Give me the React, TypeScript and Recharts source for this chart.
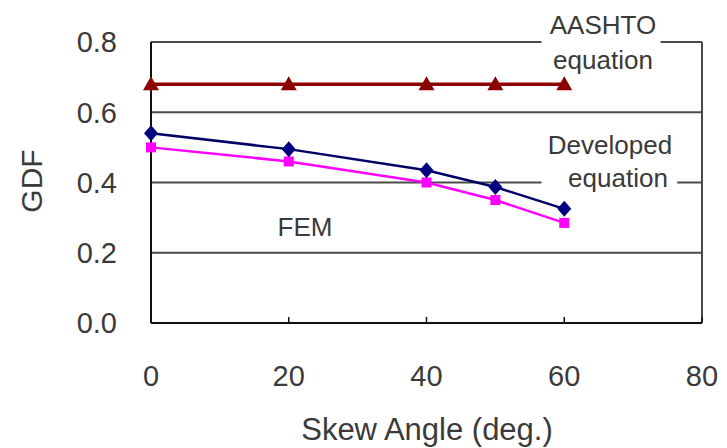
import { LineChart, Line, XAxis, YAxis, ReferenceLine } from "recharts";

// skew angle (deg.) and GDF values
const angles = [0, 20, 40, 50, 60];
const aashto = [0.68, 0.68, 0.68, 0.68, 0.68];
const developed = [0.54, 0.495, 0.435, 0.387, 0.325];
const fem = [0.5, 0.46, 0.4, 0.35, 0.285];

const xTicks = [0, 20, 40, 60, 80];
const yTicks = [0, 0.2, 0.4, 0.6, 0.8];

const data = angles.map((a, i) => ({
  angle: a,
  aashto: aashto[i],
  developed: developed[i],
  fem: fem[i],
}));

const FONT = "'Liberation Sans', Arial, sans-serif";
const TEXT = "#3a3a3a";
const GRID = "#4a4a4a";

const triangulo = (p: any) => (
  <path
    key={`t-${p.index}`}
    d={`M${p.cx},${p.cy - 8}L${p.cx + 8},${p.cy + 6}L${p.cx - 8},${p.cy + 6}Z`}
    fill="#8b0000"
  />
);

const losango = (p: any) => (
  <path
    key={`d-${p.index}`}
    d={`M${p.cx},${p.cy - 8}L${p.cx + 7},${p.cy}L${p.cx},${p.cy + 8}L${p.cx - 7},${p.cy}Z`}
    fill="#000080"
  />
);

const quadrado = (p: any) => (
  <rect key={`s-${p.index}`} x={p.cx - 5} y={p.cy - 5} width={10} height={10} fill="#ff00ff" />
);

const rotulo = (top: number, left: number, width: number, txt: string, size = 26) => (
  <div
    style={{
      position: "absolute",
      top,
      left,
      width,
      textAlign: "center",
      fontFamily: FONT,
      fontSize: size,
      color: TEXT,
      lineHeight: "32px",
      whiteSpace: "pre",
    }}
  >
    {txt}
  </div>
);

export default function App() {
  return (
    <div style={{ position: "absolute", left: 0, top: 0, width: 727, height: 448, background: "#fff" }}>
      <LineChart
        width={727}
        height={448}
        data={data}
        margin={{ top: 42, right: 25, bottom: 0, left: 0 }}
      >
        <XAxis
          dataKey="angle"
          type="number"
          domain={[0, 80]}
          ticks={xTicks}
          height={125}
          axisLine={{ stroke: "#111", strokeWidth: 2 }}
          tickLine={{ stroke: "#111", strokeWidth: 1.5 }}
          tickSize={-6}
          tickMargin={48}
          tick={{ fontSize: 29, fill: TEXT, fontFamily: FONT }}
        />
        <YAxis
          type="number"
          domain={[0, 0.8]}
          ticks={yTicks}
          width={151}
          axisLine={{ stroke: "#111", strokeWidth: 2 }}
          tickLine={false}
          tickSize={0}
          tickMargin={34}
          tickFormatter={(v: number) => v.toFixed(1)}
          tick={{ fontSize: 29, fill: TEXT, fontFamily: FONT }}
        />
        <ReferenceLine y={0.2} stroke={GRID} strokeWidth={2} />
        <ReferenceLine y={0.6} stroke={GRID} strokeWidth={2} />
        <ReferenceLine segment={[{ x: 0, y: 0.4 }, { x: 56.7, y: 0.4 }]} stroke={GRID} strokeWidth={2} />
        <ReferenceLine segment={[{ x: 76.4, y: 0.4 }, { x: 80, y: 0.4 }]} stroke={GRID} strokeWidth={2} />
        <ReferenceLine segment={[{ x: 0, y: 0.8 }, { x: 56.7, y: 0.8 }]} stroke={GRID} strokeWidth={2} />
        <ReferenceLine segment={[{ x: 74, y: 0.8 }, { x: 80, y: 0.8 }]} stroke={GRID} strokeWidth={2} />
        <ReferenceLine x={80} stroke={GRID} strokeWidth={2} />
        <Line
          dataKey="fem"
          stroke="#ff00ff"
          strokeWidth={2.5}
          dot={quadrado}
          isAnimationActive={false}
        />
        <Line
          dataKey="developed"
          stroke="#000066"
          strokeWidth={2.5}
          dot={losango}
          isAnimationActive={false}
        />
        <Line
          dataKey="aashto"
          stroke="#8b0000"
          strokeWidth={3.5}
          dot={triangulo}
          isAnimationActive={false}
        />
      </LineChart>

      {rotulo(9, 538, 130, "AASHTO")}
      {rotulo(44, 538, 130, "equation")}
      {rotulo(129, 538, 144, "Developed")}
      {rotulo(162, 546, 144, "equation")}
      {rotulo(211, 255, 100, "FEM")}
      {rotulo(414, 151, 552, "Skew Angle (deg.)", 31)}
      <div
        style={{
          position: "absolute",
          left: 32,
          top: 181,
          transform: "translate(-50%, -50%) rotate(-90deg)",
          fontFamily: FONT,
          fontSize: 30,
          color: TEXT,
          whiteSpace: "pre",
        }}
      >
        GDF
      </div>
    </div>
  );
}
